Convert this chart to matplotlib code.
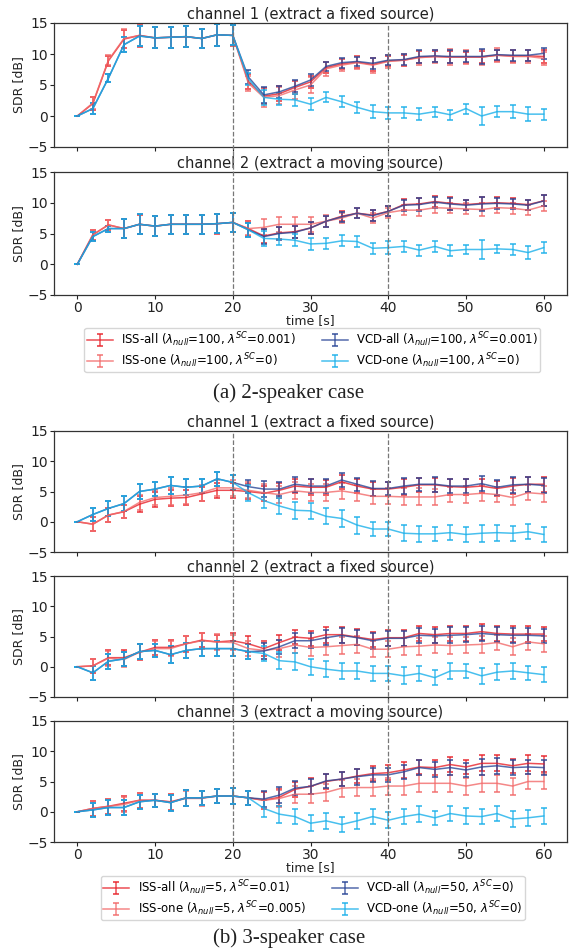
import matplotlib
matplotlib.use("Agg")
import matplotlib.pyplot as plt
from matplotlib.transforms import blended_transform_factory

t = list(range(0, 61, 2))

# (a) 2-speaker case, channel 1
a1_iss_all = [0, 2.0, 8.9, 12.4, 13.0, 12.6, 12.7, 12.8, 12.5, 13.1, 13.0, 5.6, 3.2, 3.6, 4.6, 5.5, 7.8, 8.4, 8.7, 8.3, 8.9, 9.0, 9.5, 9.6, 9.5, 9.5, 9.5, 9.8, 9.7, 9.7, 9.6]
a1_iss_one = [0, 2.1, 9.0, 12.5, 13.0, 12.6, 12.7, 12.8, 12.5, 13.1, 13.0, 5.3, 3.0, 3.3, 4.2, 5.0, 7.6, 8.2, 8.6, 8.2, 8.8, 9.0, 9.4, 9.6, 9.5, 9.5, 9.5, 9.8, 9.6, 9.6, 9.3]
a1_vcd_all = [0, 1.2, 6.1, 11.5, 12.9, 12.6, 12.7, 12.8, 12.5, 13.1, 13.0, 6.3, 3.4, 3.9, 4.8, 5.8, 8.0, 8.6, 8.8, 8.5, 9.0, 9.1, 9.6, 9.7, 9.6, 9.6, 9.6, 9.9, 9.8, 9.8, 10.1]
a1_vcd_one = [0, 1.2, 6.1, 11.5, 12.9, 12.6, 12.7, 12.8, 12.5, 13.1, 13.0, 6.0, 3.0, 2.7, 2.6, 1.9, 3.0, 2.3, 1.4, 0.7, 0.5, 0.5, 0.3, 0.7, 0.2, 1.2, 0.0, 0.7, 0.7, 0.3, 0.3]
a1_err_iss_all = [0, 1.0, 0.8, 1.5, 1.8, 1.7, 1.7, 1.7, 1.5, 1.8, 1.7, 1.2, 1.3, 1.2, 1.1, 1.0, 0.9, 0.8, 0.9, 1.0, 0.8, 0.9, 1.0, 0.9, 1.0, 0.9, 1.0, 0.9, 1.0, 0.9, 1.0]
a1_err_iss_one = [0, 1.0, 0.8, 1.5, 1.8, 1.7, 1.7, 1.7, 1.5, 1.8, 1.7, 1.2, 1.5, 1.3, 1.4, 1.3, 1.1, 1.0, 1.0, 1.2, 1.0, 1.0, 1.1, 1.1, 1.3, 1.1, 1.2, 1.1, 1.1, 1.0, 1.1]
a1_err_vcd_all = [0, 0.9, 0.6, 1.2, 1.6, 1.7, 1.7, 1.7, 1.5, 1.8, 1.6, 1.1, 1.3, 1.0, 1.0, 0.9, 0.7, 0.8, 0.7, 0.9, 0.8, 0.9, 1.1, 1.0, 1.1, 0.9, 1.2, 0.8, 0.9, 0.9, 0.9]
a1_err_vcd_one = [0, 0.9, 0.6, 1.2, 1.6, 1.7, 1.7, 1.7, 1.5, 1.8, 1.6, 1.0, 1.2, 1.0, 1.0, 1.0, 0.8, 0.9, 0.9, 1.0, 1.0, 0.9, 1.0, 0.8, 0.8, 0.8, 1.5, 0.9, 1.0, 1.1, 0.9]

# (a) 2-speaker case, channel 2
a2_iss_all = [0, 4.8, 6.4, 5.8, 6.5, 6.2, 6.5, 6.5, 6.5, 6.6, 6.8, 5.8, 4.6, 5.1, 5.3, 5.9, 7.0, 7.8, 8.3, 8.0, 8.6, 9.7, 9.8, 10.2, 9.9, 9.7, 9.9, 10.0, 9.9, 9.7, 10.3]
a2_iss_one = [0, 4.8, 6.4, 5.8, 6.5, 6.2, 6.5, 6.5, 6.5, 6.6, 6.8, 5.8, 6.0, 6.5, 6.5, 6.5, 7.0, 7.5, 8.3, 7.5, 8.4, 8.8, 8.8, 9.2, 9.1, 9.0, 8.9, 9.2, 9.1, 8.8, 9.5]
a2_vcd_all = [0, 4.5, 5.8, 5.8, 6.5, 6.2, 6.5, 6.5, 6.5, 6.6, 6.8, 5.6, 4.5, 5.0, 5.2, 5.9, 7.0, 7.7, 8.3, 7.9, 8.6, 9.6, 9.7, 10.1, 9.8, 9.6, 9.8, 9.9, 9.8, 9.6, 10.3]
a2_vcd_one = [0, 4.5, 5.8, 5.8, 6.5, 6.2, 6.5, 6.5, 6.5, 6.6, 6.8, 5.6, 4.2, 4.1, 3.9, 3.3, 3.4, 3.8, 3.7, 2.6, 2.7, 2.9, 2.3, 2.9, 2.2, 2.4, 2.4, 2.5, 2.4, 1.9, 2.7]
a2_err_iss_all = [0, 0.8, 0.8, 1.5, 1.5, 1.6, 1.5, 1.5, 1.5, 1.6, 1.6, 1.2, 1.2, 1.0, 1.0, 1.0, 0.9, 0.8, 0.8, 0.9, 0.8, 0.9, 1.0, 0.9, 1.0, 0.8, 1.0, 0.9, 0.8, 0.8, 0.9]
a2_err_iss_one = [0, 0.8, 0.8, 1.5, 1.5, 1.6, 1.5, 1.5, 1.5, 1.6, 1.6, 1.1, 1.3, 1.2, 1.2, 1.2, 1.0, 0.8, 0.8, 0.8, 0.8, 0.8, 1.0, 0.8, 0.8, 0.9, 1.1, 0.8, 0.9, 0.8, 0.8]
a2_err_vcd_all = [0, 0.8, 0.5, 1.5, 1.6, 1.6, 1.5, 1.5, 1.5, 1.5, 1.5, 1.1, 1.2, 1.0, 1.0, 1.0, 0.9, 0.8, 0.8, 0.9, 0.8, 0.9, 1.0, 0.9, 1.0, 0.8, 1.1, 0.9, 0.8, 0.8, 0.9]
a2_err_vcd_one = [0, 0.8, 0.5, 1.5, 1.6, 1.6, 1.5, 1.5, 1.5, 1.5, 1.5, 1.1, 1.2, 1.0, 1.0, 1.0, 0.9, 0.9, 0.9, 0.9, 1.0, 0.9, 0.9, 0.9, 0.9, 0.8, 1.5, 0.7, 0.9, 1.1, 0.9]

# (b) 3-speaker case, channel 1
b1_iss_all = [0, -0.4, 1.1, 1.65, 2.9, 3.7, 3.9, 4.0, 4.6, 5.2, 5.2, 5.0, 4.7, 5.2, 5.9, 5.7, 5.7, 6.6, 5.9, 5.4, 5.4, 5.7, 6.1, 6.1, 5.8, 5.7, 5.9, 5.5, 5.9, 6.2, 6.2]
b1_iss_one = [0, -0.4, 1.1, 1.7, 3.2, 4.0, 4.2, 4.4, 4.8, 5.6, 5.6, 5.2, 4.8, 4.5, 5.1, 4.85, 4.85, 5.1, 4.7, 4.2, 4.2, 4.1, 4.1, 4.1, 4.5, 4.5, 4.7, 4.5, 4.0, 4.8, 4.6]
b1_vcd_all = [0, 1.2, 2.2, 3.0, 5.0, 5.4, 6.0, 5.7, 5.9, 7.1, 6.5, 5.8, 5.4, 5.4, 6.2, 5.9, 5.9, 6.9, 6.2, 5.5, 5.5, 5.9, 6.2, 6.2, 5.9, 5.9, 6.3, 5.7, 6.1, 6.2, 6.0]
b1_vcd_one = [0, 1.2, 2.2, 3.0, 5.0, 5.4, 6.0, 5.7, 5.9, 7.1, 6.5, 4.8, 3.5, 2.6, 1.9, 1.8, 0.9, 0.55, -0.55, -1.2, -1.2, -1.9, -2.0, -2.0, -1.8, -2.1, -1.9, -1.8, -1.9, -1.65, -2.1]
b1_err_iss_all = [0, 1.2, 1.2, 1.1, 1.3, 1.3, 1.3, 1.3, 1.2, 1.2, 1.2, 1.2, 1.2, 1.2, 1.2, 1.3, 1.2, 1.2, 1.2, 1.1, 1.2, 1.3, 1.2, 1.2, 1.3, 1.3, 1.2, 1.2, 1.3, 1.2, 1.2]
b1_err_iss_one = [0, 1.2, 1.2, 1.1, 1.3, 1.3, 1.4, 1.4, 1.3, 1.3, 1.3, 1.3, 1.4, 1.4, 1.4, 1.4, 1.4, 1.3, 1.3, 1.2, 1.3, 1.4, 1.4, 1.3, 1.3, 1.4, 1.3, 1.2, 1.3, 1.2, 1.3]
b1_err_vcd_all = [0, 1.1, 1.2, 1.2, 1.2, 1.2, 1.4, 1.3, 1.2, 1.2, 1.3, 1.1, 1.3, 1.2, 1.2, 1.2, 1.1, 1.1, 1.1, 1.2, 1.1, 1.3, 1.1, 1.2, 1.2, 1.2, 1.2, 1.2, 1.3, 1.2, 1.2]
b1_err_vcd_one = [0, 1.1, 1.2, 1.2, 1.2, 1.2, 1.4, 1.3, 1.2, 1.2, 1.3, 1.3, 1.3, 1.4, 1.4, 1.3, 1.3, 1.4, 1.4, 1.2, 1.1, 1.3, 1.3, 1.1, 1.2, 1.2, 1.4, 1.3, 1.2, 1.2, 1.3]

# (b) 3-speaker case, channel 2
b2_iss_all = [0, 0.15, 1.5, 1.5, 2.4, 3.2, 3.2, 3.8, 4.4, 4.1, 4.3, 3.8, 3.0, 4.0, 4.9, 4.7, 5.3, 5.3, 4.9, 4.5, 4.8, 4.8, 5.5, 5.3, 5.5, 5.5, 5.8, 5.5, 5.4, 5.4, 5.4]
b2_iss_one = [0, 0.15, 1.4, 1.2, 2.4, 3.0, 3.0, 3.8, 4.3, 4.1, 4.0, 3.0, 2.7, 3.0, 3.6, 3.2, 3.3, 3.5, 3.7, 2.9, 2.9, 3.3, 3.4, 3.6, 3.5, 3.6, 3.7, 4.0, 3.3, 4.1, 3.8]
b2_vcd_all = [0, -1.0, 0.9, 1.3, 2.5, 2.7, 2.0, 2.7, 3.0, 3.0, 3.0, 2.5, 2.6, 3.3, 4.3, 4.3, 4.8, 5.2, 4.8, 4.3, 4.7, 4.7, 5.2, 5.1, 5.2, 5.3, 5.5, 5.3, 5.2, 5.2, 5.1]
b2_vcd_one = [0, -1.0, 0.9, 1.3, 2.5, 2.7, 2.0, 2.7, 3.0, 3.0, 3.0, 2.5, 2.2, 1.0, 0.8, 0.0, -0.4, -0.7, -0.7, -1.1, -1.1, -1.5, -1.1, -1.8, -0.7, -0.7, -1.5, -0.9, -0.7, -1.0, -1.3]
b2_err_iss_all = [0, 1.2, 1.2, 1.3, 1.3, 1.2, 1.3, 1.3, 1.2, 1.2, 1.3, 1.3, 1.3, 1.3, 1.2, 1.2, 1.3, 1.3, 1.3, 1.3, 1.3, 1.3, 1.3, 1.3, 1.3, 1.3, 1.3, 1.3, 1.3, 1.3, 1.2]
b2_err_iss_one = [0, 1.2, 1.2, 1.3, 1.3, 1.3, 1.3, 1.3, 1.3, 1.3, 1.3, 1.3, 1.4, 1.4, 1.4, 1.4, 1.4, 1.4, 1.4, 1.3, 1.3, 1.4, 1.4, 1.4, 1.4, 1.4, 1.4, 1.3, 1.4, 1.3, 1.3]
b2_err_vcd_all = [0, 1.2, 1.2, 1.2, 1.2, 1.1, 1.4, 1.2, 1.2, 1.2, 1.3, 1.3, 1.3, 1.2, 1.2, 1.2, 1.2, 1.2, 1.2, 1.3, 1.2, 1.2, 1.2, 1.2, 1.3, 1.2, 1.3, 1.2, 1.2, 1.2, 1.2]
b2_err_vcd_one = [0, 1.2, 1.2, 1.2, 1.2, 1.1, 1.4, 1.2, 1.2, 1.2, 1.3, 1.2, 1.2, 1.4, 1.4, 1.3, 1.3, 1.4, 1.3, 1.3, 1.2, 1.4, 1.3, 1.2, 1.4, 1.2, 1.3, 1.3, 1.3, 1.2, 1.3]

# (b) 3-speaker case, channel 3
b3_iss_all = [0, 0.55, 0.9, 1.4, 1.9, 1.9, 1.65, 2.3, 2.3, 2.6, 2.6, 2.3, 1.9, 2.4, 3.7, 4.2, 5.0, 5.4, 5.9, 6.3, 6.45, 6.9, 7.4, 7.3, 7.8, 7.4, 8.0, 8.0, 7.6, 8.0, 7.9]
b3_iss_one = [0, 0.55, 0.9, 1.2, 1.9, 1.9, 1.6, 2.2, 2.2, 2.6, 2.6, 2.3, 1.9, 2.2, 2.9, 2.9, 3.2, 3.9, 4.0, 4.0, 4.25, 4.25, 4.7, 4.7, 4.7, 4.25, 4.7, 4.7, 4.25, 5.0, 5.0]
b3_vcd_all = [0, 0.3, 0.7, 0.7, 1.65, 1.9, 1.5, 2.3, 2.3, 2.6, 2.6, 2.3, 2.1, 2.75, 3.9, 4.2, 5.1, 5.4, 5.8, 6.1, 6.1, 6.6, 7.3, 7.0, 7.3, 6.9, 7.4, 7.6, 7.3, 7.4, 7.3]
b3_vcd_one = [0, 0.3, 0.7, 0.7, 1.65, 1.9, 1.5, 2.3, 2.3, 2.6, 2.6, 2.3, 0.55, -0.4, -0.8, -1.9, -1.5, -2.1, -1.5, -0.8, -1.4, -0.8, -0.4, -1.0, -0.3, -0.7, -0.8, -0.3, -1.2, -1.0, -0.7]
b3_err_iss_all = [0, 1.2, 1.2, 1.2, 1.2, 1.1, 1.3, 1.3, 1.2, 1.2, 1.3, 1.2, 1.4, 1.4, 1.3, 1.3, 1.2, 1.2, 1.2, 1.2, 1.2, 1.3, 1.2, 1.2, 1.3, 1.2, 1.3, 1.3, 1.2, 1.3, 1.3]
b3_err_iss_one = [0, 1.2, 1.2, 1.2, 1.2, 1.1, 1.3, 1.3, 1.2, 1.2, 1.3, 1.2, 1.4, 1.4, 1.4, 1.4, 1.4, 1.4, 1.4, 1.4, 1.4, 1.4, 1.4, 1.4, 1.4, 1.4, 1.4, 1.4, 1.4, 1.3, 1.3]
b3_err_vcd_all = [0, 1.1, 1.2, 1.2, 1.2, 1.1, 1.3, 1.3, 1.2, 1.2, 1.3, 1.2, 1.3, 1.3, 1.2, 1.2, 1.2, 1.2, 1.3, 1.2, 1.2, 1.2, 1.2, 1.2, 1.3, 1.2, 1.3, 1.3, 1.2, 1.2, 1.3]
b3_err_vcd_one = [0, 1.1, 1.2, 1.2, 1.2, 1.1, 1.3, 1.3, 1.2, 1.2, 1.3, 1.2, 1.4, 1.4, 1.3, 1.3, 1.3, 1.3, 1.3, 1.3, 1.3, 1.3, 1.3, 1.2, 1.3, 1.3, 1.3, 1.3, 1.3, 1.3, 1.3]

titles = ["channel 1 (extract a fixed source)", "channel 2 (extract a moving source)",
          "channel 1 (extract a fixed source)", "channel 2 (extract a fixed source)",
          "channel 3 (extract a moving source)"]

labels_a = [r"ISS-all ($\lambda_{null}$=100, $\lambda^{SC}$=0.001)",
            r"ISS-one ($\lambda_{null}$=100, $\lambda^{SC}$=0)",
            r"VCD-all ($\lambda_{null}$=100, $\lambda^{SC}$=0.001)",
            r"VCD-one ($\lambda_{null}$=100, $\lambda^{SC}$=0)"]
labels_b = [r"ISS-all ($\lambda_{null}$=5, $\lambda^{SC}$=0.01)",
            r"ISS-one ($\lambda_{null}$=5, $\lambda^{SC}$=0.005)",
            r"VCD-all ($\lambda_{null}$=50, $\lambda^{SC}$=0)",
            r"VCD-one ($\lambda_{null}$=50, $\lambda^{SC}$=0)"]

colors = ["#e8222a", "#f26a6a", "#2a4797", "#1ab0ea"]

panels = [
    ([a1_iss_all, a1_iss_one, a1_vcd_all, a1_vcd_one], [a1_err_iss_all, a1_err_iss_one, a1_err_vcd_all, a1_err_vcd_one]),
    ([a2_iss_all, a2_iss_one, a2_vcd_all, a2_vcd_one], [a2_err_iss_all, a2_err_iss_one, a2_err_vcd_all, a2_err_vcd_one]),
    ([b1_iss_all, b1_iss_one, b1_vcd_all, b1_vcd_one], [b1_err_iss_all, b1_err_iss_one, b1_err_vcd_all, b1_err_vcd_one]),
    ([b2_iss_all, b2_iss_one, b2_vcd_all, b2_vcd_one], [b2_err_iss_all, b2_err_iss_one, b2_err_vcd_all, b2_err_vcd_one]),
    ([b3_iss_all, b3_iss_one, b3_vcd_all, b3_vcd_one], [b3_err_iss_all, b3_err_iss_one, b3_err_vcd_all, b3_err_vcd_one]),
]

# axes boxes in pixels (top, bottom) of a 573x952 figure
W, H = 573, 952
boxes = [(23, 147), (172, 295), (431, 552), (576, 697), (721, 842)]
left_px, right_px = 54, 567

fig = plt.figure(figsize=(W / 100, H / 100), dpi=100)
axes = []
handles_a = None
handles_b = None
for i, (top, bot) in enumerate(boxes):
    ax = fig.add_axes([left_px / W, 1 - bot / H, (right_px - left_px) / W, (bot - top) / H])
    series, errs = panels[i]
    hs = []
    for y, e, c in zip(series, errs, colors):
        h = ax.errorbar(t, y, yerr=e, color=c, alpha=0.8, lw=1.1, elinewidth=1.1,
                        capsize=2.5, capthick=1.3)
        hs.append(h)
    if i == 0:
        handles_a = hs
    if i == 2:
        handles_b = hs
    ax.set_xlim(-3, 63)
    ax.set_ylim(-5, 15)
    ax.set_yticks([-5, 0, 5, 10, 15])
    ax.set_xticks([0, 10, 20, 30, 40, 50, 60])
    ax.set_title(titles[i], fontsize=10.5, pad=3, color="#222222")
    ax.set_ylabel("SDR [dB]", fontsize=9, labelpad=2, color="#222222")
    ax.tick_params(labelsize=10, length=3, colors="#222222", pad=1.5)
    for s in ax.spines.values():
        s.set_color("#333333")
        s.set_linewidth(0.9)
    if i in (1, 4):
        ax.set_xlabel("time [s]", fontsize=9, labelpad=-1, color="#222222")
    else:
        ax.tick_params(labelbottom=False)
    axes.append(ax)

# vertical dashed markers spanning each group of panels
for group in ([0, 1], [2, 3, 4]):
    ytop = 1 - boxes[group[0]][0] / H
    ybot = 1 - boxes[group[-1]][1] / H
    ax0 = axes[group[0]]
    tr = blended_transform_factory(ax0.transData, fig.transFigure)
    for xv in (20, 40):
        fig.lines.append(plt.Line2D([xv, xv], [ybot, ytop], transform=tr,
                                    color="#777777", ls="--", lw=0.9, zorder=0))

leg_kw = dict(ncol=2, fontsize=8.5, frameon=True, edgecolor="#cccccc", fancybox=True,
              handlelength=2.2, columnspacing=2.2, borderpad=0.2, labelspacing=0.2,
              handletextpad=0.7)
fig.legend(handles_a, labels_a, loc="center", bbox_to_anchor=(0.545, 1 - 350 / H), **leg_kw)
fig.legend(handles_b, labels_b, loc="center", bbox_to_anchor=(0.546, 1 - 898 / H), **leg_kw)

fig.text(289 / W, 1 - 393 / H, "(a) 2-speaker case", ha="center", va="center",
         family="Liberation Serif", fontsize=15, color="#222222")
fig.text(289 / W, 1 - 938 / H, "(b) 3-speaker case", ha="center", va="center",
         family="Liberation Serif", fontsize=15, color="#222222")

fig.savefig("out.png", dpi=100)
